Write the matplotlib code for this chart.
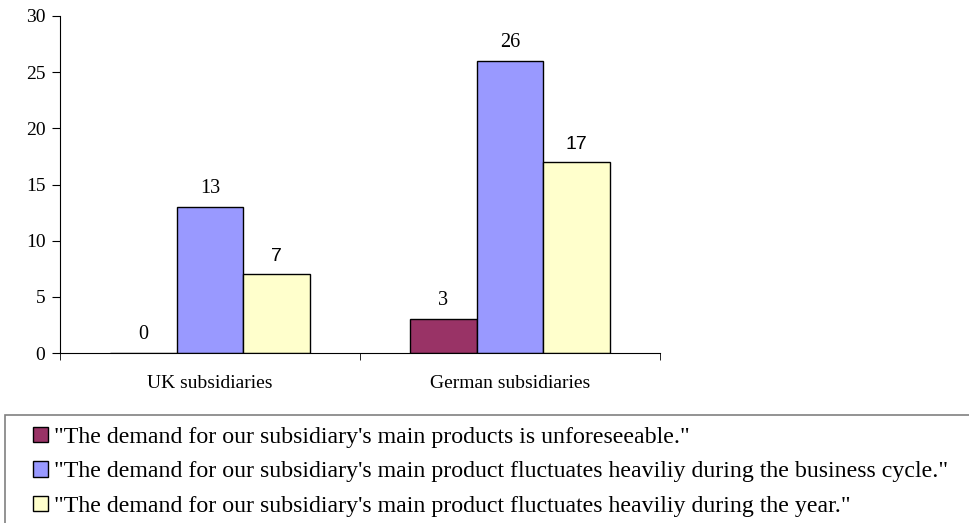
import matplotlib.pyplot as plt
from matplotlib.patches import Patch, Rectangle
import numpy as np

categories = ['UK subsidiaries', 'German subsidiaries']
series_names = [
    '"The demand for our subsidiary\'s main products is unforeseeable."',
    '"The demand for our subsidiary\'s main product fluctuates heaviliy during the business cycle."',
    '"The demand for our subsidiary\'s main product fluctuates heaviliy during the year."',
]
unforeseeable = [0, 3]
business_cycle = [13, 26]
during_year = [7, 17]
colors = ['#993366', '#9999FF', '#FFFFCC']

W, H = 969, 523
fig = plt.figure(figsize=(W / 100, H / 100), dpi=100)
ax = fig.add_axes([60 / W, 1 - 353 / H, 600 / W, 337 / H])

serif = 'Liberation Serif'
x = np.arange(len(categories))
width = 1 / 4.5
all_series = [unforeseeable, business_cycle, during_year]
for i, vals in enumerate(all_series):
    pos = x + (i - 1) * width
    ax.bar(pos, vals, width, color=colors[i], edgecolor='black', linewidth=1)
    # the third series' labels are in a sans font in the original
    if i == 2:
        fam, fs = 'Liberation Sans', 14
    else:
        fam, fs = serif, 14.5
    for p, v in zip(pos, vals):
        ax.text(p, v + 0.8, str(v), ha='center', va='bottom', fontsize=fs, family=fam)

ax.set_xlim(-0.5, 1.5)
ax.set_ylim(0, 30)
ax.set_yticks(range(0, 31, 5))
ax.set_xticks(x)
ax.set_xticklabels(categories)
ax.set_xticks([-0.5, 0.5, 1.5], minor=True)
ax.tick_params(axis='x', which='major', length=0, pad=16)
ax.tick_params(axis='x', which='minor', length=5, direction='out')
ax.tick_params(axis='y', length=5.5, direction='out', pad=5)
for lab in ax.get_xticklabels() + ax.get_yticklabels():
    lab.set_family(serif)
    lab.set_fontsize(14)
ax.spines['top'].set_visible(False)
ax.spines['right'].set_visible(False)

# legend frame runs off the right and bottom edges
fig.patches.append(Rectangle((5 / W, -0.1), 1.2, 1 - 415 / H + 0.1, transform=fig.transFigure,
                             fill=False, edgecolor='#808080', linewidth=1.2))
handles = [Patch(facecolor=c, edgecolor='black', linewidth=1) for c in colors]
fig.legend(handles, series_names, loc='upper left',
           bbox_to_anchor=(33 / W, 1 - 427 / H),
           prop={'family': serif, 'size': 17.2}, handlelength=0.62, handleheight=0.62,
           handletextpad=0.25, labelspacing=0.55, borderaxespad=0, borderpad=0,
           frameon=False)

fig.savefig('out.png', dpi=100)
